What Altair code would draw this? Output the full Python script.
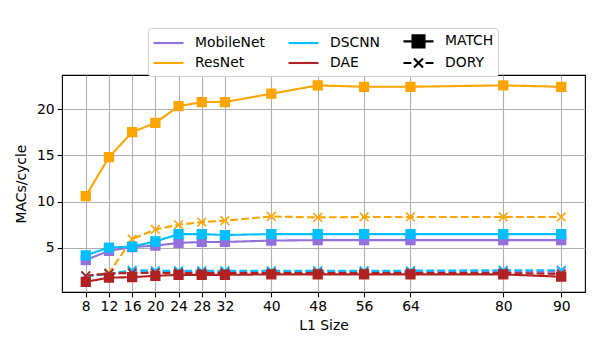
import altair as alt
import pandas as pd

l1_sizes = [8, 12, 16, 20, 24, 28, 32, 40, 48, 56, 64, 80, 90]
networks = ["MobileNet", "ResNet", "DSCNN", "DAE"]
methods = ["MATCH", "DORY"]
net_colors = ["#9370DB", "#FFA500", "#00BFFF", "#B22222"]

mobilenet_match = [3.7, 4.7, 5.1, 5.25, 5.55, 5.65, 5.65, 5.8, 5.85, 5.85, 5.85, 5.85, 5.85]
mobilenet_dory = [2.0, 2.2, 2.45, 2.4, 2.4, 2.4, 2.4, 2.45, 2.45, 2.45, 2.45, 2.45, 2.45]
resnet_match = [10.6, 14.8, 17.5, 18.5, 20.3, 20.75, 20.75, 21.65, 22.55, 22.4, 22.4, 22.55, 22.4]
resnet_dory = [2.0, 2.3, 5.95, 7.0, 7.5, 7.8, 7.95, 8.4, 8.3, 8.35, 8.35, 8.35, 8.35]
dscnn_match = [4.2, 5.05, 5.15, 5.7, 6.5, 6.5, 6.4, 6.5, 6.5, 6.5, 6.5, 6.5, 6.5]
dscnn_dory = [1.95, 2.2, 2.6, 2.55, 2.55, 2.55, 2.55, 2.55, 2.55, 2.55, 2.55, 2.6, 2.6]
dae_match = [1.35, 1.8, 1.85, 2.0, 2.1, 2.1, 2.1, 2.15, 2.15, 2.15, 2.15, 2.15, 1.9]
dae_dory = [2.0, 2.25, 2.3, 2.3, 2.3, 2.3, 2.3, 2.3, 2.3, 2.3, 2.3, 2.3, 2.2]

series = {
    ("MobileNet", "MATCH"): mobilenet_match,
    ("MobileNet", "DORY"): mobilenet_dory,
    ("ResNet", "MATCH"): resnet_match,
    ("ResNet", "DORY"): resnet_dory,
    ("DSCNN", "MATCH"): dscnn_match,
    ("DSCNN", "DORY"): dscnn_dory,
    ("DAE", "MATCH"): dae_match,
    ("DAE", "DORY"): dae_dory,
}

rows = []
order = 0
for (net, meth), vals in series.items():
    for x, y in zip(l1_sizes, vals):
        rows.append({"network": net, "method": meth, "L1": x, "macs": y, "grp": order})
    order += 1
df = pd.DataFrame(rows)

FONT = "DejaVu Sans"
FS = 13.9

xenc = alt.X("L1:Q", title="L1 Size",
             scale=alt.Scale(domain=[3.9, 94.1], nice=False, zero=False),
             axis=alt.Axis(values=l1_sizes))
yenc = alt.Y("macs:Q", title="MACs/cycle",
             scale=alt.Scale(domain=[0.25, 23.67], nice=False, zero=False),
             axis=alt.Axis(values=[5, 10, 15, 20]))

color_scale = alt.Scale(domain=networks, range=net_colors)

lines = alt.Chart(df).mark_line(strokeWidth=2.1).encode(
    x=xenc, y=yenc,
    color=alt.Color("network:N", scale=color_scale, legend=None),
    strokeDash=alt.StrokeDash("method:N",
                              scale=alt.Scale(domain=methods, range=[[1, 0], [7.7, 3.3]]),
                              legend=None),
    detail="grp:N",
    order="L1:Q",
)

x_path = "M-1,-1L1,1M-1,1L1,-1"
points = alt.Chart(df).mark_point(filled=True, opacity=1, strokeWidth=1.6, size=75).encode(
    x=xenc, y=yenc,
    fill=alt.Fill("network:N", scale=color_scale, legend=None),
    stroke=alt.Stroke("network:N", scale=color_scale, legend=None),
    shape=alt.Shape("method:N", scale=alt.Scale(domain=methods, range=["square", x_path]),
                    legend=None),
    detail="grp:N",
)

# legend entries (filled column by column, 3 columns)
legend_entries = ["MobileNet", "ResNet", "DSCNN", "DAE", "MATCH", "DORY"]
line_path = "M-1,0L3,0"
match_path = "M-1,0L3,0M0.2,-0.8L1.8,-0.8L1.8,0.8L0.2,0.8Z"
dory_path = "M-1,0L0.05,0M0.4,-0.6L1.6,0.6M0.4,0.6L1.6,-0.6M1.95,0L3,0"
legend_paths = [line_path, line_path, line_path, line_path, match_path, dory_path]
legend_colors = ["#9370DB", "#FFA500", "#00BFFF", "#B22222", "black", "black"]

leg_df = pd.DataFrame({"entry": legend_entries})
leg = alt.Legend(
    title=None, orient="none", legendX=86, legendY=-47, columns=3,
    symbolSize=225, symbolStrokeWidth=2.1, symbolOpacity=1,
    labelFont=FONT, labelFontSize=FS, labelColor="black", labelOffset=25,
    columnPadding=19, rowPadding=2, padding=4,
    strokeColor="#d0d0d0", fillColor="white", cornerRadius=3,
)
legend_layer = alt.Chart(leg_df).mark_point(filled=True, opacity=1, strokeWidth=2.1).encode(
    shape=alt.Shape("entry:N", sort=legend_entries,
                    scale=alt.Scale(domain=legend_entries, range=legend_paths), legend=leg),
    stroke=alt.Stroke("entry:N", sort=legend_entries,
                      scale=alt.Scale(domain=legend_entries, range=legend_colors), legend=leg),
    fill=alt.Fill("entry:N", sort=legend_entries,
                  scale=alt.Scale(domain=legend_entries, range=legend_colors), legend=leg),
).transform_filter("false")

chart = alt.layer(lines, points, legend_layer).resolve_scale(
    shape="independent", stroke="independent", fill="independent"
).properties(
    width=523, height=217,
    autosize=alt.AutoSizeParams(type="none"),
    padding={"left": 54, "top": 67, "right": 7, "bottom": 50},
).configure_view(
    stroke="black", strokeWidth=1.1
).configure_axis(
    labelFont=FONT, labelFontSize=FS, labelColor="black",
    titleFont=FONT, titleFontSize=FS, titleColor="black", titleFontWeight="normal",
    grid=True, gridColor="#b0b0b0", gridWidth=1.1,
    domain=False, ticks=True, tickColor="black", tickSize=4.9, tickWidth=1.1,
    labelPadding=3, labelFlush=False, labelOverlap=False,
).configure_axisY(
    titlePadding=8
).configure_axisX(
    titlePadding=5
)

chart.save("out.html", embed_options={"renderer": "svg", "actions": False})
